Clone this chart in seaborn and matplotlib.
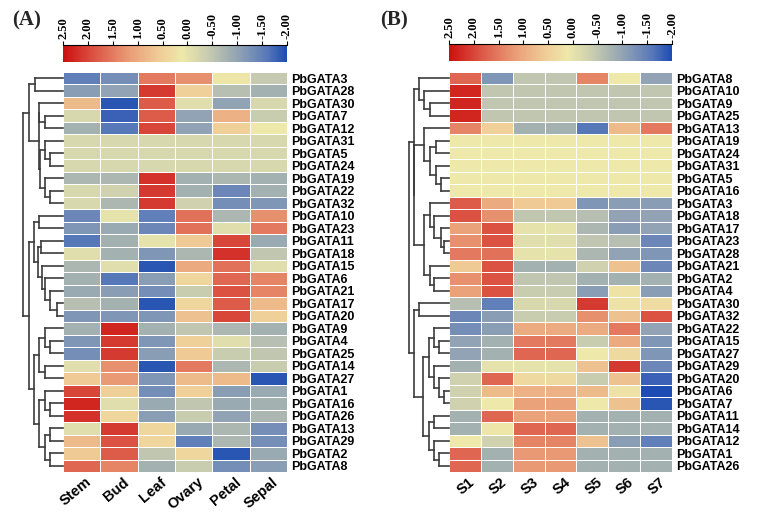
import numpy as np
import pandas as pd
import matplotlib
matplotlib.use("Agg")
import matplotlib.pyplot as plt
import seaborn as sns
from matplotlib.colors import LinearSegmentedColormap, Normalize
from matplotlib.cm import ScalarMappable
from matplotlib.transforms import ScaledTranslation

sns.set_theme(style="white")
plt.rcParams['font.family'] = ['Liberation Sans', 'DejaVu Sans']

# ---------------- data : panel A (tissues) ----------------
genes_a = ["PbGATA3", "PbGATA28", "PbGATA30", "PbGATA7", "PbGATA12", "PbGATA31", "PbGATA5",
           "PbGATA24", "PbGATA19", "PbGATA22", "PbGATA32", "PbGATA10", "PbGATA23", "PbGATA11",
           "PbGATA18", "PbGATA15", "PbGATA6", "PbGATA21", "PbGATA17", "PbGATA20", "PbGATA9",
           "PbGATA4", "PbGATA25", "PbGATA14", "PbGATA27", "PbGATA1", "PbGATA16", "PbGATA26",
           "PbGATA13", "PbGATA29", "PbGATA2", "PbGATA8"]
tissues = ["Stem", "Bud", "Leaf", "Ovary", "Petal", "Sepal"]
stem = [-1.5, -1.1, 0.8, -0.2, -0.8, -0.2, -0.2, -0.2, -0.7, -0.2, -0.2, -1.4, -1.2, -1.6, -0.1, -0.7,
        -0.8, -0.9, -0.6, -1.2, -0.8, -1.2, -1.3, -0.1, 0.6, 2.0, 2.3, 2.2, -0.1, 0.8, 0.6, 1.7]
bud = [-1.3, -1.0, -1.9, -1.8, -1.6, -0.2, -0.2, -0.2, -0.7, -0.3, -0.7, 0.0, -0.9, -0.8, -0.8, -0.1,
       -1.6, -1.1, -0.8, -1.2, 2.3, 2.1, 2.1, 1.3, 1.2, 0.5, -0.1, 0.4, 2.1, 1.9, 1.8, 1.4]
leaf = [1.5, 2.1, 1.8, 1.8, 2.0, -0.2, -0.2, -0.2, 2.2, 2.1, 2.1, -1.5, -1.4, 0.0, -1.2, -1.9,
        -1.1, -1.3, -1.9, -1.2, -0.8, -1.2, -1.1, -1.9, -1.2, -1.3, -0.9, -1.1, 0.4, 0.4, -0.5, -0.8]
ovary = [1.3, 0.5, -0.1, -1.0, -1.0, -0.2, -0.2, -0.2, -0.8, -0.8, -0.3, 1.6, 1.6, 0.6, -0.7, 1.0,
         0.4, -0.4, 0.4, 0.7, -0.5, 0.5, 0.6, 1.5, 0.8, 0.5, -0.5, -0.4, -0.9, -1.5, 0.4, -0.4]
petal = [0.15, -0.6, -1.0, 0.9, 0.5, -0.2, -0.2, -0.2, -0.7, -1.4, -1.3, -0.7, -0.1, 2.0, 2.2, 1.6,
         1.7, 1.9, 1.8, 2.0, -0.7, -0.1, -0.4, -0.7, 0.8, -1.1, -0.9, -1.0, -0.7, -0.7, -1.9, -1.3]
sepal = [-0.45, -0.8, -0.2, -0.4, 0.1, -0.2, -0.2, -0.2, -0.8, -0.8, -1.2, 1.3, 1.5, -0.9, -0.5, -0.1,
         1.4, 1.4, 0.8, 0.5, -0.8, -0.6, -0.5, -0.4, -1.9, -0.9, -0.8, -0.7, -1.3, -1.3, -0.9, -1.1]

# ---------------- data : panel B (stages) ----------------
genes_b = ["PbGATA8", "PbGATA10", "PbGATA9", "PbGATA25", "PbGATA13", "PbGATA19", "PbGATA24",
           "PbGATA31", "PbGATA5", "PbGATA16", "PbGATA3", "PbGATA18", "PbGATA17", "PbGATA23",
           "PbGATA28", "PbGATA21", "PbGATA2", "PbGATA4", "PbGATA30", "PbGATA32", "PbGATA22",
           "PbGATA15", "PbGATA27", "PbGATA29", "PbGATA20", "PbGATA6", "PbGATA7", "PbGATA11",
           "PbGATA14", "PbGATA12", "PbGATA1", "PbGATA26"]
stages = ["S1", "S2", "S3", "S4", "S5", "S6", "S7"]
s1 = [1.7, 2.3, 2.3, 2.3, 1.4, 0.1, 0.1, 0.1, 0.1, 0.1, 1.8, 1.9, 1.1, 1.3, 1.5, 0.6,
      1.3, 1.1, -0.6, -1.4, -1.3, -1.0, -1.0, -0.8, -0.3, -0.3, -0.3, -0.8, -0.8, 0.1, 1.7, 1.7]
s2 = [-1.2, -0.5, -0.5, -0.5, 0.5, 0.1, 0.1, 0.1, 0.1, 0.1, 1.0, 1.3, 1.9, 1.9, 1.6, 1.9,
      1.9, 1.9, -1.5, -1.1, -1.1, -0.8, -0.8, 0.0, 1.7, 0.8, 0.1, 1.7, 0.15, -0.3, -0.8, -0.8]
s3 = [-0.5, -0.5, -0.5, -0.5, -0.8, 0.1, 0.1, 0.1, 0.1, 0.1, 0.6, -0.5, 0.0, -0.1, 0.0, -0.8,
      -0.5, -0.4, -0.2, -0.4, 1.0, 1.5, 1.7, 0.0, 0.35, 0.9, 1.1, 1.1, 1.7, 1.4, 1.2, 1.2]
s4 = [-0.5, -0.5, -0.5, -0.5, -0.8, 0.1, 0.1, 0.1, 0.1, 0.1, 0.6, -0.5, 0.0, -0.1, 0.0, -0.8,
      -0.5, -0.4, -0.2, -0.4, 1.0, 1.5, 1.7, 0.0, 0.35, 0.9, 1.1, 1.1, 1.7, 1.4, 1.2, 1.2]
s5 = [1.4, -0.5, -0.5, -0.5, -1.6, 0.1, 0.1, 0.1, 0.1, 0.1, -1.2, -0.6, -0.7, -0.5, -0.7, -0.3,
      -0.8, -1.1, 2.1, 1.3, 1.0, -0.4, 0.1, 0.7, -0.4, 0.8, 0.1, -0.8, -0.8, 0.7, -0.8, -0.8]
s6 = [0.1, -0.5, -0.5, -0.5, 0.8, 0.1, 0.1, 0.1, 0.1, 0.1, -1.1, -1.0, -1.1, -0.6, -1.0, 0.7,
      -0.8, 0.2, 0.2, 0.7, 1.5, 1.0, 0.35, 2.1, 0.7, 0.2, 0.7, -0.8, -0.8, -1.1, -0.8, -0.8]
s7 = [-1.0, -0.5, -0.5, -0.5, 1.5, 0.1, 0.1, 0.1, 0.1, 0.1, -1.1, -1.0, -1.0, -1.4, -1.2, -1.4,
      -0.8, -1.1, 0.3, 1.9, -1.0, -1.2, -1.2, -1.4, -1.8, -2.0, -1.9, -0.8, -0.8, -1.5, -0.8, -0.8]

# colour-bar ticks
cbar_ticks = [2.5, 2.0, 1.5, 1.0, 0.5, 0.0, -0.5, -1.0, -1.5, -2.0]

# dendrogram structure (merge height, left, right); leaves = row index
tree_a = (1.0,
          (0.835, (0.70, 0, 1),
                  (0.60, (0.59, 2, (0.45, 3, 4)),
                         (0.58, (0.45, 5, (0.33, 6, 7)), (0.45, 8, (0.33, 9, 10))))),
          (0.835, (0.71, (0.59, 11, 12),
                         (0.62, (0.55, 13, 14),
                                (0.52, 15, (0.45, 16, (0.33, 17, (0.15, 18, 19)))))),
                  (0.71, (0.59, (0.45, 20, (0.33, 21, 22)), (0.45, 23, 24)),
                         (0.59, (0.45, 25, (0.33, 26, 27)),
                                (0.45, (0.33, 28, 29), (0.33, 30, 31))))))
tree_b = (1.0,
          (0.88, (0.75, 0, (0.63, 1, (0.48, 2, 3))),
                 (0.87, (0.63, 4, (0.48, (0.33, 5, 6), (0.33, 7, (0.21, 8, 9)))),
                        (0.63, (0.48, 10, (0.38, 11, (0.21, 12, (0.125, 13, 14)))),
                               (0.48, 15, (0.36, 16, 17))))),
          (0.875, (0.75, 18, 19),
                  (0.64, (0.5, (0.36, 20, (0.25, 21, 22)), (0.36, 23, (0.25, 24, (0.12, 25, 26)))),
                         (0.5, (0.36, 27, 28), (0.36, 29, (0.25, 30, 31))))))

df_a = pd.DataFrame({"Stem": stem, "Bud": bud, "Leaf": leaf, "Ovary": ovary,
                     "Petal": petal, "Sepal": sepal}, index=genes_a)[tissues]
df_b = pd.DataFrame({"S1": s1, "S2": s2, "S3": s3, "S4": s4, "S5": s5, "S6": s6, "S7": s7},
                    index=genes_b)[stages]

# ---------------- style ----------------
VMIN, VMAX = -2.0, 2.5
stops = [(-2.0, "#1d4cb2"), (-1.6, "#5878b8"), (-1.2, "#8096b6"), (-0.8, "#a4b1b1"),
         (-0.4, "#c9cdb0"), (0.1, "#eee8aa"), (0.6, "#efca95"), (1.2, "#e99a75"),
         (1.8, "#dd5c4a"), (2.5, "#cc1010")]
cmap = LinearSegmentedColormap.from_list("tb", [((v - VMIN) / (VMAX - VMIN), c) for v, c in stops])

W, H = 764, 522
fig = plt.figure(figsize=(W / 100, H / 100), dpi=100)
fig.patch.set_facecolor("white")


def box(x, y, w, h):
    return [x / W, 1 - (y + h) / H, w / W, h / H]


LINE = dict(color="#3c3c3c", lw=1.2, solid_capstyle="projecting", clip_on=False)


def draw_tree(ax, node):
    if isinstance(node, int):
        return node + 0.5, 0.0
    h, a, b = node
    ya, ha = draw_tree(ax, a)
    yb, hb = draw_tree(ax, b)
    ax.plot([ha, h], [ya, ya], **LINE)
    ax.plot([hb, h], [yb, yb], **LINE)
    ax.plot([h, h], [ya, yb], **LINE)
    return (ya + yb) / 2, h


def panel(df, tree, hm, dn, dn_xmax, cb):
    ax = fig.add_axes(box(*hm))
    sns.heatmap(df, ax=ax, cmap=cmap, vmin=VMIN, vmax=VMAX, cbar=False,
                linewidths=0.5, linecolor="white", xticklabels=True, yticklabels=True)
    ax.yaxis.tick_right()
    ax.set_yticks(np.arange(len(df.index)) + 0.5)
    ax.set_yticklabels(df.index, rotation=0, fontsize=9, fontweight="bold", color="black")
    ax.tick_params(axis="y", length=0, pad=3, right=True, left=False)
    ax.set_xticklabels(df.columns, rotation=40, ha="right", va="center",
                       rotation_mode="anchor", fontsize=10.5, fontweight="bold", color="black")
    ax.tick_params(axis="x", length=0, pad=6)
    off = ScaledTranslation(8 / 100, 0, fig.dpi_scale_trans)
    for lab in ax.get_xticklabels():
        lab.set_transform(lab.get_transform() + off)
    ax.set_xlabel("")
    ax.set_ylabel("")

    axd = fig.add_axes(box(*dn))
    axd.set_ylim(len(df.index), 0)
    axd.set_xlim(dn_xmax, 0)
    axd.axis("off")
    draw_tree(axd, tree)

    cax = fig.add_axes(box(*cb))
    cbar = fig.colorbar(ScalarMappable(Normalize(VMIN, VMAX), cmap), cax=cax,
                        orientation="horizontal")
    cbar.outline.set_visible(False)
    cax.set_xlim(VMAX, VMIN)
    cax.xaxis.set_ticks_position("top")
    cax.xaxis.set_label_position("top")
    cbar.set_ticks(cbar_ticks)
    cax.set_xticklabels([f"{t:.2f}" for t in cbar_ticks], rotation=90,
                        fontsize=9, fontweight="bold", family="Liberation Serif", color="black")
    cax.tick_params(axis="x", top=True, bottom=False, length=3, width=0.8, color="black",
                    direction="out", pad=1.5)
    cax.plot([0, 1], [1, 1], transform=cax.transAxes, color="black", lw=0.8, clip_on=False)


panel(df_a, tree_a, (63, 72, 224, 400), (20, 72, 43, 400), 43 / 40.3, (63, 45, 224, 17))
panel(df_b, tree_b, (449, 72, 223, 400), (405, 72, 44, 400), 44 / 40.3, (449, 44, 223, 17))

fig.text(12 / W, 1 - 20 / H, "(A)", fontsize=15, fontweight="bold", family="Liberation Serif",
         va="center", ha="left")
fig.text(380 / W, 1 - 20 / H, "(B)", fontsize=15, fontweight="bold", family="Liberation Serif",
         va="center", ha="left")

fig.savefig("out.png", dpi=100, facecolor="white")
